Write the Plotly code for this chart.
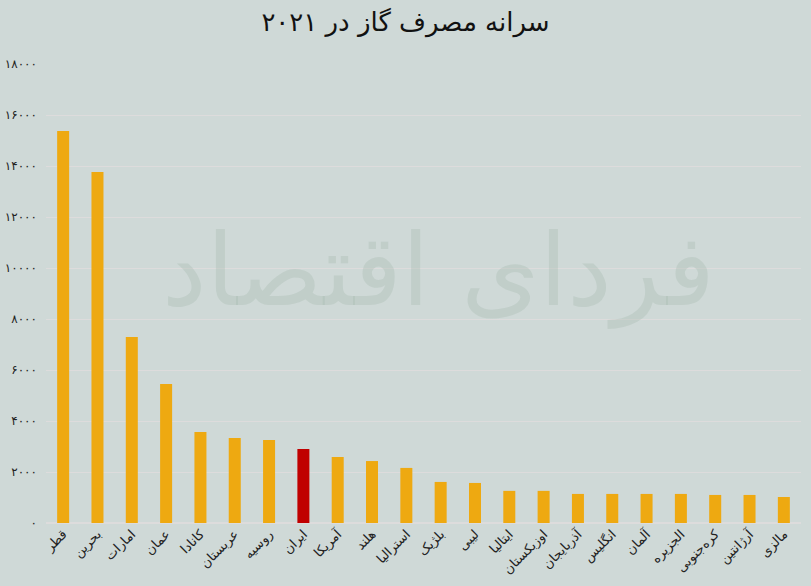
import plotly.graph_objects as go

countries = ["قطر", "بحرین", "امارات", "عمان", "کانادا", "عربستان", "روسیه", "ایران",
             "آمریکا", "هلند", "استرالیا", "بلژیک", "لیبی", "ایتالیا", "اوزبکستان",
             "آذربایجان", "انگلیس", "آلمان", "الجزیره", "کره‌جنوبی", "آرژانتین", "مالزی"]
values = [15370, 13760, 7290, 5450, 3570, 3330, 3250, 2900,
          2590, 2430, 2160, 1610, 1570, 1260, 1260,
          1140, 1140, 1140, 1140, 1100, 1100, 1020]
highlight = "ایران"

tick_vals = list(range(0, 18001, 2000))
persian_digits = str.maketrans("0123456789", "۰۱۲۳۴۵۶۷۸۹")
tick_text = [str(v).translate(persian_digits) for v in tick_vals]

colors = ["#c00000" if c == highlight else "#eea911" for c in countries]

fig = go.Figure()
fig.add_trace(go.Bar(x=countries, y=values, marker=dict(color=colors, line=dict(width=0)),
                     width=0.35))

fig.update_layout(
    width=811, height=586,
    paper_bgcolor="#cfd9d7", plot_bgcolor="#cfd9d7",
    margin=dict(l=46, r=10, t=64, b=63),
    title=dict(text="سرانه مصرف گاز در ۲۰۲۱", x=0.5, xanchor="center", y=0.962, yanchor="middle",
               font=dict(family="DejaVu Sans", size=26, color="#111111")),
    showlegend=False,
    font=dict(family="DejaVu Sans", color="#222222"),
    xaxis=dict(tickangle=-45, tickfont=dict(size=13, color="#222222"), showgrid=False,
               showline=False, ticks="", ticklen=0, automargin=False),
    yaxis=dict(range=[0, 18000], tickvals=tick_vals, ticktext=tick_text,
               tickfont=dict(size=12, color="#222222"), showgrid=True,
               gridcolor="#dddcdc", gridwidth=1, zeroline=True, zerolinecolor="#dddcdc",
               showline=False, ticks="", ticklabelstandoff=8, automargin=False),
    bargap=0.65,
)

fig.add_annotation(text="فردای اقتصاد", xref="paper", yref="paper", x=0.52, y=0.55,
                   showarrow=False,
                   font=dict(family="DejaVu Sans", size=100, color="rgba(165,185,175,0.35)"))

fig.write_html("out.html", config={"displayModeBar": False},
               post_script="document.body.style.margin='0';")
